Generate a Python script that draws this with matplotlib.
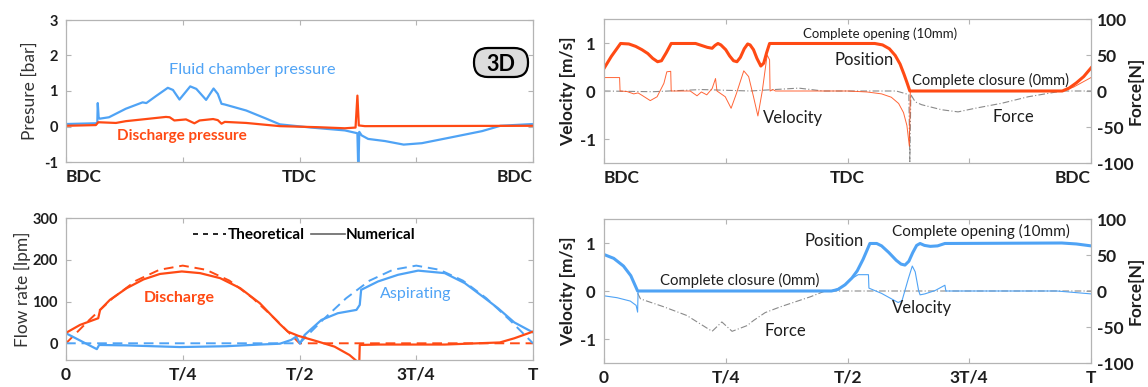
import matplotlib
matplotlib.use('Agg')
import matplotlib.pyplot as plt
from matplotlib.lines import Line2D
from matplotlib.patches import FancyBboxPatch
from matplotlib.transforms import IdentityTransform

plt.rcParams['font.family'] = ['Lato', 'DejaVu Sans']
plt.rcParams['axes.unicode_minus'] = False

ORANGE = '#FF4A14'
BLUE = '#4FA3F5'
FORCE_GRAY = '#8a8a8a'
SPINE = '#b4b4b4'
TEXT = '#1e1e1e'

# ---- top left: pressures over one cycle (0 = BDC, 0.5 = TDC, 1 = BDC)
chamber_t = [0, 0.063, 0.067, 0.068, 0.070, 0.072, 0.092, 0.128, 0.164, 0.172, 0.193,
             0.218, 0.229, 0.243, 0.266, 0.279, 0.300, 0.316, 0.325, 0.333, 0.340,
             0.386, 0.429, 0.458, 0.525, 0.597, 0.624, 0.626, 0.628, 0.633, 0.647,
             0.683, 0.723, 0.762, 0.827, 0.891, 0.930, 1.0]
chamber_p = [0.07, 0.09, 0.10, 0.66, 0.24, 0.22, 0.26, 0.50, 0.68, 0.66, 0.86,
             1.09, 1.03, 0.76, 1.13, 1.06, 0.75, 1.07, 0.92, 0.64, 0.62,
             0.45, 0.22, 0.06, -0.03, -0.11, -0.19, -1.3, -0.15, -0.25, -0.35,
             -0.41, -0.51, -0.47, -0.30, -0.13, 0.02, 0.07]
disch_t = [0, 0.064, 0.069, 0.107, 0.128, 0.164, 0.214, 0.222, 0.232, 0.257, 0.275,
           0.286, 0.315, 0.325, 0.333, 0.340, 0.386, 0.458, 0.540, 0.597, 0.620,
           0.624, 0.627, 0.640, 1.0]
disch_p = [0.02, 0.04, 0.12, 0.10, 0.15, 0.20, 0.27, 0.26, 0.17, 0.20, 0.09,
           0.17, 0.21, 0.18, 0.08, 0.13, 0.10, 0.01, -0.02, -0.05, -0.03,
           0.87, 0.03, 0.01, 0.02]

# ---- top right: discharge valve (position in velocity units, velocity, force)
dv_pos_t = [0, 0.015, 0.034, 0.051, 0.065, 0.078, 0.090, 0.100, 0.110, 0.118, 0.128,
            0.138, 0.188, 0.200, 0.212, 0.222, 0.228, 0.234, 0.240, 0.250, 0.258,
            0.266, 0.273, 0.280, 0.288, 0.295, 0.300, 0.307, 0.314, 0.322, 0.328,
            0.334, 0.340, 0.556, 0.572, 0.586, 0.598, 0.608, 0.616, 0.622, 0.628,
            0.941, 0.955, 0.970, 0.985, 1.0]
dv_pos = [0.47, 0.72, 0.99, 0.98, 0.93, 0.86, 0.78, 0.68, 0.61, 0.63, 0.80,
          0.99, 0.99, 0.95, 0.91, 0.89, 0.95, 0.99, 0.96, 0.86, 0.73,
          0.63, 0.61, 0.70, 0.88, 0.98, 0.96, 0.86, 0.68, 0.52, 0.58,
          0.80, 0.99, 0.99, 0.96, 0.88, 0.74, 0.56, 0.35, 0.18, 0.0,
          0.0, 0.06, 0.17, 0.30, 0.48]
dv_vel_t = [0, 0.032, 0.033, 0.047, 0.061, 0.070, 0.078, 0.095, 0.109, 0.123, 0.129,
            0.137, 0.138, 0.177, 0.191, 0.200, 0.211, 0.222, 0.229, 0.232, 0.249,
            0.261, 0.272, 0.287, 0.297, 0.307, 0.316, 0.325, 0.335, 0.340, 0.341,
            0.347, 0.352, 0.50, 0.54, 0.57, 0.59, 0.605, 0.615, 0.622, 0.627,
            0.629, 0.941, 0.964, 1.0]
dv_vel = [0.28, 0.28, 0.0, -0.01, -0.06, -0.04, -0.09, -0.20, -0.12, 0.16, 0.40,
          0.41, 0.0, 0.0, -0.10, -0.02, -0.08, 0.05, 0.26, 0.0, -0.12,
          -0.36, -0.05, 0.42, 0.30, -0.12, -0.52, 0.0, 0.75, 0.65, 0.0,
          0.03, 0.0, 0.0, -0.02, -0.06, -0.13, -0.26, -0.45, -0.72, -1.15,
          0.0, 0.0, 0.08, 0.28]
dv_force_t = [0, 0.1, 0.2, 0.3, 0.40, 0.45, 0.60, 0.626, 0.628, 0.630, 0.639, 0.652,
              0.693, 0.727, 0.762, 0.817, 0.871, 0.941, 1.0]
dv_force = [0, -1, 2, 0, 4, 0, 0, -5, -98, -5, -15, -19,
            -26, -29, -24, -17, -8, 0, 0]

# ---- bottom left: flow rates
q_dis_t = [0, 0.030, 0.069, 0.073, 0.094, 0.130, 0.166, 0.201, 0.248, 0.287, 0.330,
           0.373, 0.415, 0.458, 0.475, 0.497, 0.540, 0.575, 0.607, 0.625, 0.628,
           0.629, 0.668, 0.811, 0.929, 0.96, 1.0]
q_dis = [25, 44, 60, 80, 104, 132, 153, 166, 172, 168, 156,
         132, 96, 46, 28, 18, 4, -8, -28, -45, -45,
         -4, -3, -3, 2, 12, 28]
q_dis_th_t = [0, 0.05, 0.1, 0.15, 0.2, 0.25, 0.3, 0.35, 0.4, 0.45, 0.5, 1.0]
q_dis_th = [0, 56, 108, 150, 176, 186, 176, 150, 108, 56, 0, 0]
q_asp_t = [0, 0.066, 0.071, 0.128, 0.244, 0.343, 0.415, 0.458, 0.482, 0.493, 0.501,
           0.511, 0.547, 0.582, 0.622, 0.629, 0.632, 0.668, 0.711, 0.754, 0.811,
           0.854, 0.897, 0.925, 0.96, 1.0]
q_asp = [24, -14, -4, -5, -9, -7, -3, -1, 8, 16, -1,
         20, 56, 72, 80, 92, 128, 148, 164, 174, 168,
         144, 108, 84, 50, 26]
q_asp_th_t = [0, 0.5, 0.55, 0.6, 0.65, 0.7, 0.75, 0.8, 0.85, 0.9, 0.95, 1.0]
q_asp_th = [0, 0, 56, 108, 150, 176, 186, 176, 150, 108, 56, 0]

# ---- bottom right: suction valve
sv_pos_t = [0, 0.02, 0.04, 0.055, 0.069, 0.467, 0.480, 0.495, 0.509, 0.520, 0.532,
            0.546, 0.560, 0.570, 0.585, 0.600, 0.610, 0.618, 0.626, 0.634, 0.642,
            0.649, 0.658, 0.670, 0.685, 0.700, 0.94, 0.97, 1.0]
sv_pos = [0.76, 0.68, 0.52, 0.32, 0.0, 0.0, 0.03, 0.13, 0.27, 0.42, 0.66,
          0.99, 0.99, 0.94, 0.80, 0.64, 0.56, 0.54, 0.62, 0.80, 0.95,
          0.99, 0.95, 0.93, 0.94, 0.99, 1.0, 0.98, 0.94]
sv_vel_t = [0, 0.027, 0.054, 0.066, 0.069, 0.070, 0.467, 0.488, 0.509, 0.522, 0.543,
            0.544, 0.570, 0.604, 0.612, 0.625, 0.633, 0.639, 0.646, 0.649, 0.659,
            0.680, 0.700, 0.702, 0.93, 1.0]
sv_vel = [-0.10, -0.14, -0.21, -0.30, -0.44, 0.0, 0.0, 0.08, 0.26, 0.34, 0.34,
          0.06, -0.05, -0.24, -0.20, 0.26, 0.52, 0.40, 0.01, -0.08, -0.06,
          0.01, 0.12, 0.0, 0.0, -0.06]
sv_force_t = [0.069, 0.075, 0.123, 0.170, 0.222, 0.242, 0.263, 0.294, 0.307, 0.331,
              0.362, 0.424, 0.454, 1.0]
sv_force = [-3, -11, -22, -34, -56, -43, -56, -48, -41, -30,
            -22, -8, 0, 0]

quarters = [0, 0.25, 0.5, 0.75, 1]
crank_labels = ['BDC', '', 'TDC', '', 'BDC']
period_labels = ['0', 'T/4', 'T/2', '3T/4', 'T']

W, H = 1148, 387
fig = plt.figure(figsize=(W / 100, H / 100), dpi=100)


def px_axes(x0, y0, x1, y1):
    return fig.add_axes([x0 / W, 1 - y1 / H, (x1 - x0) / W, (y1 - y0) / H])


def style(ax, labels, right=True, inset_ends=False):
    for s in ax.spines.values():
        s.set_color(SPINE)
        s.set_linewidth(0.9)
    ax.set_xlim(0, 1)
    ax.set_xticks(quarters)
    ax.set_xticklabels(labels)
    ax.tick_params(direction='in', length=3.5, width=0.8, color=SPINE,
                   top=True, right=right, labelcolor=TEXT)
    ax.tick_params(axis='x', labelsize=12.5, pad=5)
    ax.tick_params(axis='y', labelsize=10.5, pad=6)
    for lab in ax.get_xticklabels() + ax.get_yticklabels():
        lab.set_fontweight('bold')
    if inset_ends:
        xl = ax.get_xticklabels()
        xl[0].set_horizontalalignment('left')
        xl[-1].set_horizontalalignment('right')


def force_axis(ax):
    ax2 = ax.twinx()
    ax2.set_ylim(-100, 100)
    ax2.set_yticks([-100, -50, 0, 50, 100])
    for s in ax2.spines.values():
        s.set_visible(False)
    ax2.tick_params(direction='in', length=3.5, width=0.8, color=SPINE,
                    labelsize=12.5, labelcolor=TEXT, pad=4)
    for lab in ax2.get_yticklabels():
        lab.set_fontweight('bold')
    return ax2


def note(ax, x, y, s, size, **kw):
    kw.setdefault('color', TEXT)
    ax.text(x, y, s, transform=ax.transAxes, fontsize=size, ha='center', va='center', **kw)


# ================= top left =================
ax = px_axes(66, 20, 533, 162)
ax.plot(chamber_t, chamber_p, color=BLUE, lw=1.6)
ax.plot(disch_t, disch_p, color=ORANGE, lw=1.6)
ax.set_ylim(-1, 3)
ax.set_yticks([-1, 0, 1, 2, 3])
style(ax, crank_labels, inset_ends=True)
fig.text(30 / W, 1 - 91 / H, 'Presure [bar]', rotation=90, ha='center', va='center',
         fontsize=12.5, color='#333333')
note(ax, 0.40, 0.648, 'Fluid chamber pressure', 11.7, color=BLUE)
note(ax, 0.249, 0.185, 'Discharge pressure', 11, color=ORANGE, fontweight='bold')
# "3D" badge, drawn in pixel units so the rounding stays round
badge = FancyBboxPatch((474, H - 77), 54, 29, boxstyle='round,pad=0,rounding_size=14',
                       fc='#dcdcdc', ec='black', lw=1.6, transform=IdentityTransform())
fig.add_artist(badge)
fig.text(501 / W, 1 - 62.5 / H, '3D', fontsize=15.5, fontweight='bold', ha='center',
         va='center_baseline', color='black')

# ================= top right =================
ax = px_axes(604, 19, 1091, 163)
ax2 = force_axis(ax)
ax2.plot(dv_force_t, dv_force, color=FORCE_GRAY, lw=0.8, ls=(0, (6, 2, 1, 2)))
ax.set_zorder(ax2.get_zorder() + 1)
ax.patch.set_visible(False)
ax.plot(dv_vel_t, dv_vel, color=ORANGE, lw=0.7, alpha=0.85)
ax.plot(dv_pos_t, dv_pos, color=ORANGE, lw=2.2)
ax.set_ylim(-1.5, 1.5)
ax.set_yticks([-1, 0, 1])
style(ax, crank_labels, right=False, inset_ends=True)
ax.tick_params(axis='y', labelsize=12)
fig.text(568 / W, 1 - 91 / H, 'Velocity [m/s]', rotation=90, ha='center', va='center',
         fontsize=12.5, fontweight='bold', color=TEXT)
fig.text(1136 / W, 1 - 91 / H, 'Force[N]', rotation=90, ha='center', va='center',
         fontsize=12.5, fontweight='bold', color=TEXT)
note(ax, 0.567, 0.896, 'Complete opening (10mm)', 9.5)
note(ax, 0.534, 0.715, 'Position', 12)
note(ax, 0.793, 0.576, 'Complete closure (0mm)', 10.5)
note(ax, 0.388, 0.31, 'Velocity', 12)
note(ax, 0.840, 0.316, 'Force', 12)

# ================= bottom left =================
ax = px_axes(66, 218, 533, 360)
ax.plot(q_dis_th_t, q_dis_th, color=ORANGE, lw=1.4, ls=(0, (5, 3)))
ax.plot(q_asp_th_t, q_asp_th, color=BLUE, lw=1.4, ls=(0, (5, 3)))
ax.plot(q_asp_t, q_asp, color=BLUE, lw=1.6)
ax.plot(q_dis_t, q_dis, color=ORANGE, lw=1.6)
ax.set_ylim(-40, 300)
ax.set_yticks([0, 100, 200, 300])
style(ax, period_labels)
fig.text(22 / W, 1 - 289 / H, 'Flow rate [lpm]', rotation=90, ha='center', va='center',
         fontsize=12.5, color='#333333')
handles = [Line2D([], [], color='black', lw=1.2, ls=(0, (3, 3))),
           Line2D([], [], color='#666666', lw=1.2)]
ax.legend(handles, ['Theoretical', 'Numerical'], ncol=2, loc='center',
          bbox_to_anchor=(0.51, 0.88), frameon=False, handlelength=2.2,
          handletextpad=0.1, columnspacing=0.4,
          prop={'size': 11, 'weight': 'bold'})
note(ax, 0.242, 0.44, 'Discharge', 11.5, color=ORANGE, fontweight='bold')
note(ax, 0.748, 0.465, 'Aspirating', 11.5, color=BLUE)

# ================= bottom right =================
ax = px_axes(604, 219, 1091, 363)
ax2 = force_axis(ax)
ax2.plot(sv_force_t, sv_force, color=FORCE_GRAY, lw=0.8, ls=(0, (6, 2, 1, 2)))
ax.set_zorder(ax2.get_zorder() + 1)
ax.patch.set_visible(False)
ax.plot(sv_vel_t, sv_vel, color=BLUE, lw=0.8)
ax.plot(sv_pos_t, sv_pos, color=BLUE, lw=2.2)
ax.set_ylim(-1.5, 1.5)
ax.set_yticks([-1, 0, 1])
style(ax, period_labels, right=False)
ax.tick_params(axis='y', labelsize=12)
fig.text(568 / W, 1 - 291 / H, 'Velocity [m/s]', rotation=90, ha='center', va='center',
         fontsize=12.5, fontweight='bold', color=TEXT)
fig.text(1136 / W, 1 - 291 / H, 'Force[N]', rotation=90, ha='center', va='center',
         fontsize=12.5, fontweight='bold', color=TEXT)
note(ax, 0.473, 0.85, 'Position', 12)
note(ax, 0.774, 0.912, 'Complete opening (10mm)', 11)
note(ax, 0.279, 0.576, 'Complete closure (0mm)', 10.7)
note(ax, 0.654, 0.38, 'Velocity', 12)
note(ax, 0.372, 0.222, 'Force', 12)

fig.savefig('out.png', dpi=100)
